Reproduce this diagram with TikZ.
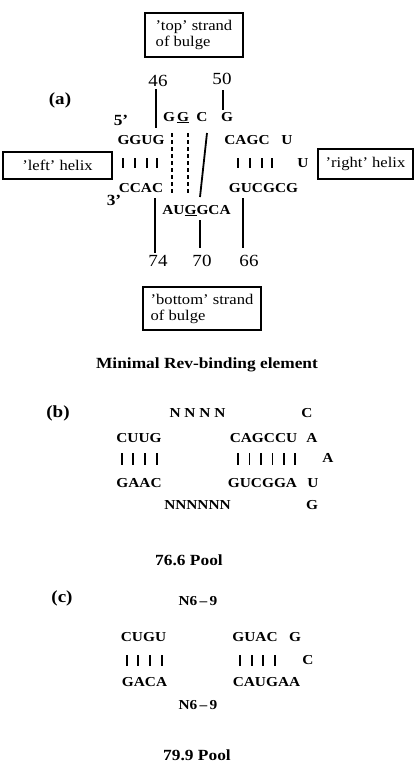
\documentclass[tikz,border=0pt]{standalone}
\usepackage{fontspec}
\setmainfont{Liberation Serif}[FakeStretch=1.12]
\begin{document}
\begin{tikzpicture}[x=1pt,y=-1pt,
  seq/.style={font=\bfseries\fontsize{13.7}{15}\selectfont, inner sep=0pt, anchor=base},
  lab/.style={font=\fontsize{17}{18}\selectfont, inner sep=0pt, anchor=base},
  capt/.style={font=\bfseries\fontsize{15.5}{17}\selectfont, inner sep=0pt, anchor=base},
  part/.style={font=\bfseries\fontsize{17}{18}\selectfont, inner sep=0pt, anchor=center},
  bx/.style={draw, line width=1.8pt, inner sep=0pt, align=left, font=\fontsize{14.8}{16}\selectfont},
  bar/.style={line width=1.7pt},
  ptr/.style={line width=1.8pt},
  dsh/.style={line width=1.8pt, dash pattern=on 4pt off 3pt}]
\useasboundingbox (0,0) rectangle (415,764);

% ---------------- (a) ----------------
\node[bx, minimum width=98, minimum height=44] (topbox) at (194,35) {'top' strand\\of bulge};
\node[bx, minimum width=109, minimum height=27] (leftbox) at (57.5,165.5) {'left' helix};
\node[bx, minimum width=95, minimum height=30] (rightbox) at (365.5,164) {'right' helix};
\node[bx, minimum width=118, minimum height=43] (botbox) at (202,308.5) {'bottom' strand\\of bulge};

\node[part] (pa) at (60,100) {(a)};
\node[lab] (n46) at (158,86) {46};
\node[lab] (n50) at (222,84) {50};
\node[lab] (n74) at (158,266) {74};
\node[lab] (n70) at (202,266) {70};
\node[lab] (n66) at (249,266) {66};
\node[capt, anchor=center] (five) at (121,120) {5'};
\node[capt, anchor=center] (three) at (114,200) {3'};

\node[seq] (g1) at (169,121) {G};
\node[seq] (g2) at (183,121) {\underline{G}};
\node[seq] (c1) at (202,121) {C};
\node[seq] (g3) at (227,121) {G};

\node[seq] (ggug) at (141,144) {GGUG};
\node[seq] (cagc) at (247,144) {CAGC};
\node[seq] (ua) at (287,144) {U};
\node[seq] (ub) at (303,167) {U};
\node[seq] (ccac) at (141,192) {CCAC};
\node[seq] (gucgcg) at (263.5,192) {GUCGCG};
\node[seq] (auggca) at (196.5,214) {AU\underline{G}GCA};

\foreach \x in {123,135,147,157,238,250,262,272}
  \draw[bar] (\x,158) -- (\x,168);

\coordinate (p46a) at (156,89);
\coordinate (p46b) at (156,128);
\draw[ptr] (p46a) -- (p46b);
\coordinate (p50a) at (223,90);
\coordinate (p50b) at (223,110);
\draw[ptr] (p50a) -- (p50b);
\coordinate (d1a) at (172,133);
\coordinate (d1b) at (172,195);
\draw[dsh] (d1a) -- (d1b);
\coordinate (d2a) at (188,133);
\coordinate (d2b) at (188,195);
\draw[dsh] (d2a) -- (d2b);
\coordinate (sla) at (207,133);
\coordinate (slb) at (200,197);
\draw[ptr] (sla) -- (slb);
\coordinate (p74a) at (155,198);
\coordinate (p74b) at (155,253);
\draw[ptr] (p74a) -- (p74b);
\coordinate (p70a) at (200,220);
\coordinate (p70b) at (200,248);
\draw[ptr] (p70a) -- (p70b);
\coordinate (p66a) at (243,198);
\coordinate (p66b) at (243,248);
\draw[ptr] (p66a) -- (p66b);

\node[capt] (capa) at (207,368) {Minimal Rev-binding element};

% ---------------- (b) ----------------
\node[part] (pb) at (58,413) {(b)};
\node[seq] (bn4) at (197.5,417) {N N N N};
\node[seq] (bc) at (307,417) {C};
\node[seq] (bcuug) at (139,442) {CUUG};
\node[seq] (bcagccu) at (263.5,442) {CAGCCU};
\node[seq] (ba1) at (312,442) {A};
\node[seq] (ba2) at (328,462) {A};
\node[seq] (bgaac) at (139,487) {GAAC};
\node[seq] (bgucgga) at (262.5,487) {GUCGGA};
\node[seq] (bu) at (313,487) {U};
\node[seq] (bn6) at (197.5,509) {NNNNNN};
\node[seq] (bg) at (312,509) {G};
\foreach \x in {122,133,145,157,238,249.5,261,272.5,284,295}
  \draw[bar] (\x,453) -- (\x,465);
\node[capt] (capb) at (189,565) {76.6 Pool};

% ---------------- (c) ----------------
\node[part] (pc) at (62,598) {(c)};
\node[seq] (cn1) at (198,605) {N6\,--\,9};
\node[seq] (ccugu) at (143.5,641) {CUGU};
\node[seq] (cguac) at (255,641) {GUAC};
\node[seq] (cg) at (295,641) {G};
\node[seq] (cc) at (308,664) {C};
\node[seq] (cgaca) at (144.5,686) {GACA};
\node[seq] (ccaugaa) at (266.5,686) {CAUGAA};
\node[seq] (cn2) at (198,709) {N6\,--\,9};
\foreach \x in {127,138,150,162,240,252,263,275}
  \draw[bar] (\x,655) -- (\x,666);
\node[capt] (capc) at (197,760) {79.9 Pool};
\end{tikzpicture}
\end{document}
